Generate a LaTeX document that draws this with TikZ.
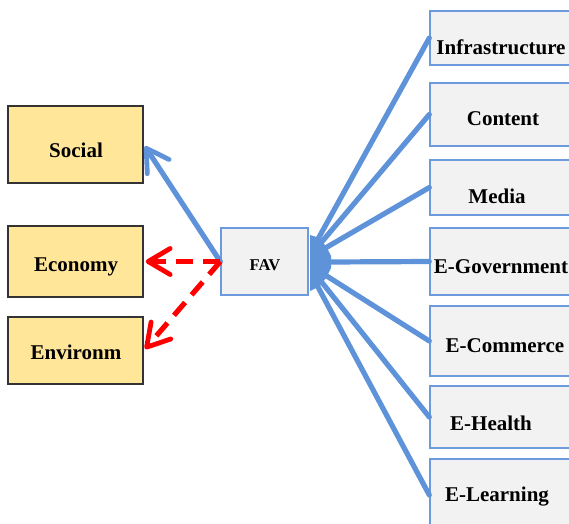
\documentclass[tikz,border=0pt]{standalone}
\usepackage{fontspec}
\setmainfont{Liberation Serif}
\usepackage{tikz}
\usetikzlibrary{arrows.meta}

\definecolor{favblue}{HTML}{5F93D9}
\definecolor{boxblue}{HTML}{6B9BDC}
\definecolor{softgray}{HTML}{F2F2F2}
\definecolor{sandfill}{HTML}{FFE699}

\begin{document}
\begin{tikzpicture}[x=1pt,y=-1pt,>={Straight Barb[length=22pt,width=26pt,line width=4.8pt,round]}]
				\tikzstyle{pillar}=[draw=black!80,line width=1.5pt,fill=sandfill,minimum width=135pt,inner sep=0pt]
				\tikzstyle{sector}=[draw=boxblue,line width=1.4pt,fill=softgray,minimum width=170pt,inner sep=0pt]
				\tikzstyle{boxtext}=[font=\fontsize{21}{24}\selectfont\bfseries,inner sep=0pt]
				\tikzstyle{link}=[favblue,line width=5.2pt,line cap=round]
				\tikzstyle{effect}=[red,line width=5.2pt,dash pattern=on 17pt off 10pt]
				
				\useasboundingbox (0,0) rectangle (569,523);
				
				\node[pillar,minimum height=77pt](social) at (75.5,144.5){};
				\node[pillar,minimum height=71pt](economy) at (75.5,261.5){};
				\node[pillar,minimum height=67pt](environ) at (75.5,350.5){};
				
				\node[boxtext] at (76,150){Social};
				\node[boxtext] at (76,267){Economy};
				\node[boxtext] at (76,352){Environm};
				
				\node[draw=boxblue,line width=1.4pt,fill=softgray,minimum width=87pt,minimum height=67pt,inner sep=0pt](fav) at (264.5,261.5){};
				\node[font=\fontsize{16.5}{20}\selectfont\bfseries] at (265,265){FAV};
				
				\node[sector,minimum height=54pt](infra) at (515,38){};
				\node[sector,minimum height=63pt](content) at (515,114.5){};
				\node[sector,minimum height=55pt](media) at (515,187.5){};
				\node[sector,minimum height=67pt](egov) at (515,261.5){};
				\node[sector,minimum height=70pt](ecom) at (515,341){};
				\node[sector,minimum height=62pt](ehealth) at (515,417){};
				\node[sector,minimum height=72pt](elearn) at (515,495){};
				
				\node[boxtext] at (501,47){Infrastructure};
				\node[boxtext] at (503,119){Content};
				\node[boxtext] at (497,196){Media};
				\node[boxtext] at (501,267){E-Government};
				\node[boxtext] at (505,346){E-Commerce};
				\node[boxtext] at (491,423){E-Health};
				\node[boxtext] at (497,497){E-Learning};
				
				% fan-out points on the right of FAV
				\coordinate (f1) at (318,239);
				\coordinate (f2) at (320,244);
				\coordinate (f3) at (322,250);
				\coordinate (f4) at (328,262);
				\coordinate (f5) at (322,273);
				\coordinate (f6) at (320,280);
				\coordinate (f7) at (318,287);
				
				\fill[favblue] (310,235) -- (320,238) -- (327,248) -- (331,256) -- (331,268) -- (326,278) -- (320,286) -- (310,291) -- cycle;
				
				\draw[link] (f1) -- (infra.west);
				\draw[link] (f2) -- (content.west);
				\draw[link] (f3) -- (media.west);
				\draw[link] (f4) -- (egov.west);
				\draw[link] (f5) -- (ecom.west);
				\draw[link] (f6) -- (ehealth.west);
				\draw[link] (f7) -- (elearn.west);
				
				\draw[link,->,shorten >=2pt] (fav.west) -- (social.east);
				\draw[effect,->,shorten >=2pt] (fav.west) -- (economy.east);
				\draw[effect,->,shorten >=2pt] (fav.west) -- (environ.east);
				\end{tikzpicture}
\end{document}
